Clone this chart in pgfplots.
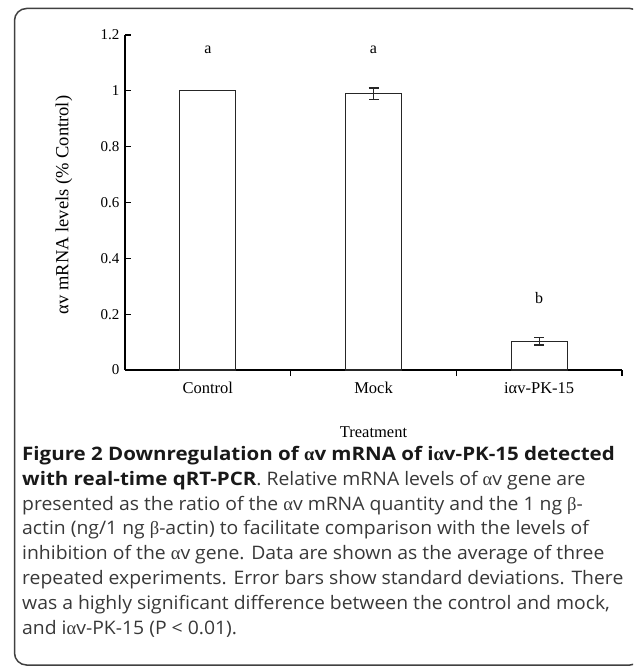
\documentclass[border=0pt]{standalone}
\usepackage{fontspec}
\setmainfont{Liberation Serif}
\newfontfamily\capfont[FakeStretch=1.041, BoldFeatures={FakeStretch=1.103}]{Open Sans}
\newfontfamily\grk{Liberation Serif}
\usepackage{pgfplots}
\pgfplotsset{compat=1.18}
\newcommand\ga{{\grk α}}
\newcommand\gb{{\grk β}}
\begin{document}
\begin{tikzpicture}
\useasboundingbox (0pt,0pt) rectangle (633pt,-668pt);
\begin{scope}
\clip (0pt,0pt) rectangle (633pt,-668pt);
\draw[line width=1.5pt, black!75, rounded corners=12pt] (14.5pt,-8.5pt) rectangle (642pt,-665pt);
\end{scope}
\begin{axis}[
  at={(125pt,-370pt)}, anchor=south west,
  scale only axis, width=497pt, height=335pt,
  xmin=0.5, xmax=3.5, ymin=0, ymax=1.2,
  axis x line=bottom, axis y line=left,
  axis line style={-, line width=1.2pt},
  xtick={1.5,2.5,3.5}, xticklabels={}, xtick align=inside,
  extra x ticks={1,2,3},
  extra x tick labels={Control,Mock,iαv-PK-15},
  extra x tick style={major tick length=0pt,
    xticklabel style={font=\fontsize{16.5}{16.5}\selectfont, yshift=-9pt}},
  ytick={0,0.2,0.4,0.6,0.8,1,1.2}, ytick align=inside,
  major tick length=6pt,
  tick style={black, line width=1.2pt},
  yticklabel style={font=\fontsize{15}{15}\selectfont, xshift=-2pt},
  /pgf/number format/assume math mode=true,
  ybar, bar width=56pt,
  clip=false,
]
\addplot[fill=white, draw=black!85, line width=1.3pt,
  error bars/.cd, y dir=both, y explicit,
  error mark options={rotate=90, mark size=5pt, line width=1.3pt, black!85},
  error bar style={line width=1.3pt, black!85}]
  coordinates {(1,1) +- (0,0) (2,0.99) +- (0,0.02) (3,0.103) +- (0,0.013)};
\node[font=\fontsize{16}{16}\selectfont] at (axis cs:1,1.147) {a};
\node[font=\fontsize{16}{16}\selectfont] at (axis cs:2,1.147) {a};
\node[font=\fontsize{16}{16}\selectfont] at (axis cs:3,0.258) {b};
\node[font=\fontsize{16.5}{16.5}\selectfont] at (axis description cs:0.5,-0.185) {Treatment};
\end{axis}
\node[rotate=90, anchor=center, font=\fontsize{18.5}{18.5}\selectfont] at (64pt,-205pt) {αv mRNA levels (\% Control)};
\node[anchor=north west, align=left, inner sep=0pt, text=black!78,
  font=\capfont\fontsize{18.6}{24.8}\selectfont] at (22pt,-446pt) {%
{\bfseries\color{black!90}Figure 2 Downregulation of \ga v mRNA of i\ga v-PK-15 detected}\\
{\bfseries\color{black!90}with real-time qRT-PCR}. Relative mRNA levels of \ga v gene are\\
presented as the ratio of the \ga v mRNA quantity and the 1 ng \gb-\\
actin (ng/1 ng \gb-actin) to facilitate comparison with the levels of\\
inhibition of the \ga v gene. Data are shown as the average of three\\
repeated experiments. Error bars show standard deviations. There\\
was a highly significant difference between the control and mock,\\
and i\ga v-PK-15 (P < 0.01).};
\end{tikzpicture}
\end{document}
